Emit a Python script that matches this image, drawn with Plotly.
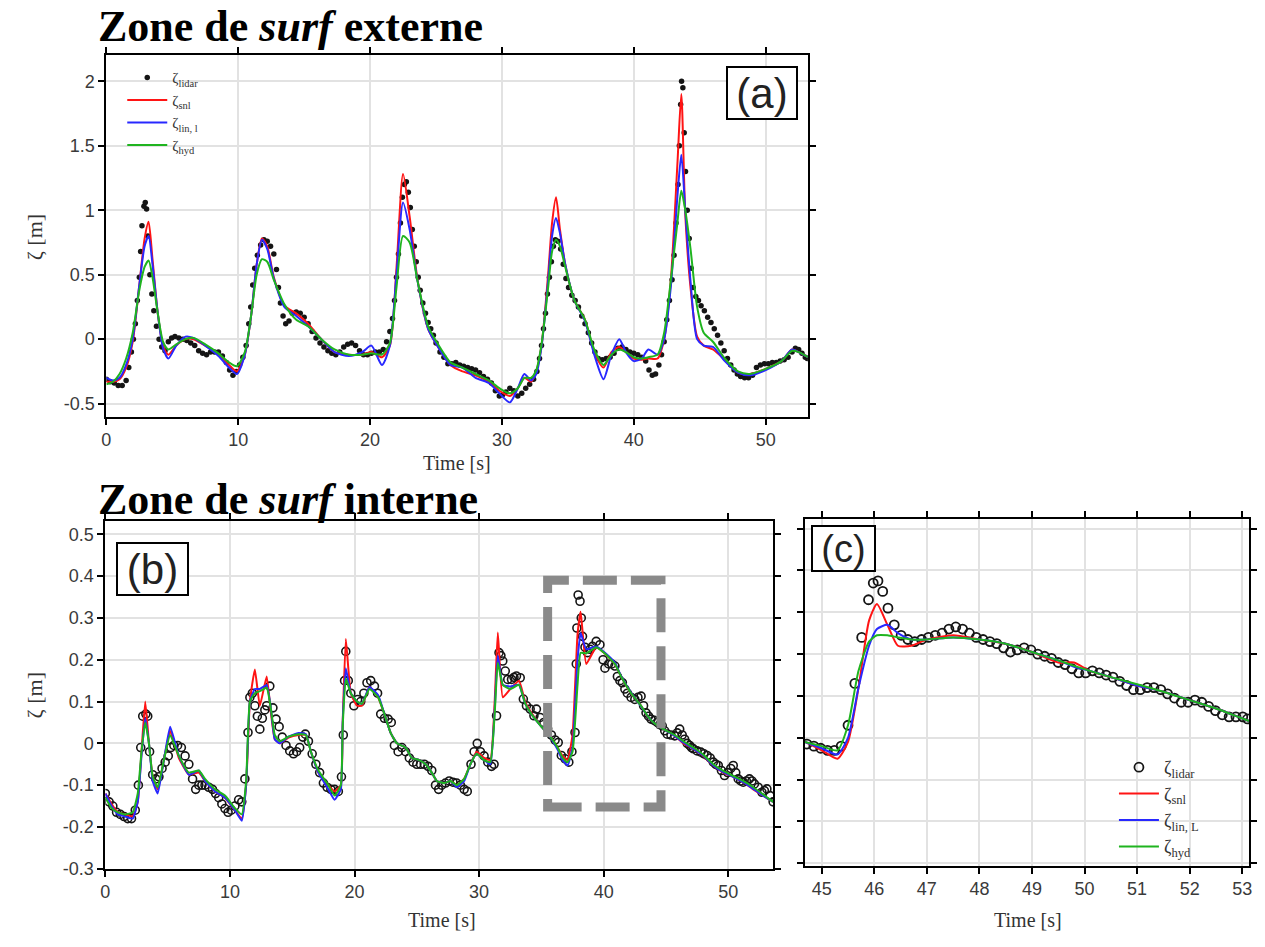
import plotly.graph_objects as go

W, H = 1265, 947

# ---------------- Panel (a) : Zone de surf externe ----------------
t_a = [0, 0.5, 1.0, 1.5, 2.0, 2.5, 2.9, 3.2, 3.5, 3.9,
       4.3, 4.7, 5.3, 6.0, 6.6, 7.5, 8.5, 9.3, 9.9, 10.5,
       11.0, 11.4, 11.8, 12.2, 12.7, 13.5, 14.4, 15.3, 16.3, 17.3,
       18.4, 19.4, 20.1, 20.9, 21.5, 22.0, 22.5, 23.0, 23.6, 24.4,
       25.1, 26.1, 27.0, 28.0, 29.0, 29.8, 30.6, 31.2, 31.7, 32.2,
       32.6, 33.0, 33.5, 33.8, 34.1, 34.4, 34.8, 35.5, 36.3, 37.0,
       37.7, 38.3, 38.9, 39.4, 40.0, 40.6, 41.1, 41.8, 42.3, 42.8,
       43.3, 43.6, 43.9, 44.3, 44.8, 45.3, 46.0, 46.9, 47.9, 48.8,
       50.0, 51.2, 52.0, 52.5, 53.2]
snl_a = [-0.33, -0.33, -0.31, -0.22, -0.02, 0.42, 0.78, 0.91, 0.62, 0.20,
         -0.05, -0.12, -0.05, 0.00, 0.00, -0.05, -0.12, -0.20, -0.25, -0.12,
         0.20, 0.58, 0.78, 0.72, 0.48, 0.26, 0.20, 0.12, 0.00, -0.10,
         -0.12, -0.12, -0.10, -0.14, -0.05, 0.55, 1.28, 0.95, 0.46, 0.08,
         -0.05, -0.20, -0.25, -0.28, -0.33, -0.40, -0.44, -0.38, -0.30, -0.33,
         -0.25, -0.05, 0.50, 0.90, 1.10, 0.85, 0.58, 0.30, 0.15, -0.10,
         -0.22, -0.10, -0.06, -0.10, -0.15, -0.16, -0.15, -0.15, 0.00, 0.45,
         1.35, 1.90, 0.97, 0.40, 0.02, -0.05, -0.08, -0.16, -0.26, -0.27,
         -0.23, -0.17, -0.08, -0.10, -0.14]
lin_a = [-0.30, -0.32, -0.30, -0.20, 0.00, 0.42, 0.72, 0.80, 0.58, 0.20,
         -0.07, -0.15, -0.05, 0.02, 0.01, -0.05, -0.13, -0.22, -0.27, -0.12,
         0.20, 0.58, 0.77, 0.70, 0.47, 0.25, 0.18, 0.10, 0.00, -0.10,
         -0.13, -0.10, -0.05, -0.20, -0.05, 0.50, 1.06, 0.85, 0.45, 0.08,
         -0.05, -0.20, -0.22, -0.30, -0.34, -0.42, -0.49, -0.38, -0.27, -0.32,
         -0.27, -0.06, 0.45, 0.80, 0.94, 0.82, 0.58, 0.30, 0.14, -0.12,
         -0.31, -0.12, 0.00, -0.10, -0.17, -0.15, -0.08, -0.12, 0.00, 0.40,
         1.10, 1.43, 1.00, 0.45, 0.00, -0.05, -0.06, -0.17, -0.26, -0.28,
         -0.24, -0.17, -0.08, -0.10, -0.14]
hyd_a = [-0.35, -0.33, -0.27, -0.15, 0.05, 0.38, 0.56, 0.61, 0.48, 0.20,
         -0.02, -0.08, -0.04, 0.00, 0.01, -0.04, -0.11, -0.18, -0.21, -0.10,
         0.20, 0.50, 0.62, 0.60, 0.46, 0.27, 0.15, 0.10, 0.00, -0.08,
         -0.12, -0.12, -0.11, -0.12, -0.03, 0.40, 0.80, 0.75, 0.45, 0.10,
         -0.03, -0.18, -0.22, -0.27, -0.32, -0.38, -0.42, -0.38, -0.30, -0.30,
         -0.24, -0.04, 0.40, 0.68, 0.77, 0.72, 0.56, 0.30, 0.15, -0.08,
         -0.20, -0.12, -0.08, -0.10, -0.14, -0.15, -0.14, -0.12, 0.05, 0.45,
         0.90, 1.15, 1.00, 0.70, 0.25, 0.05, -0.02, -0.15, -0.25, -0.27,
         -0.23, -0.17, -0.09, -0.10, -0.14]

lidar_a_t = [0.0, 0.3, 0.6, 0.9, 1.2, 1.5, 1.7, 1.9, 2.05, 2.2,
             2.35, 2.5, 2.6, 2.7, 2.85, 2.95, 3.05, 3.15, 3.3, 3.45,
             3.6, 3.8, 4.0, 4.2, 4.45, 4.7, 4.95, 5.2, 5.5, 5.8,
             6.1, 6.4, 6.7, 7.0, 7.3, 7.6, 7.9, 8.2, 8.5, 8.8,
             9.1, 9.35, 9.6, 9.85, 10.1, 10.35, 10.6, 10.8, 10.95, 11.1,
             11.25, 11.45, 11.7, 11.95, 12.2, 12.45, 12.7, 12.9, 13.05, 13.2,
             13.4, 13.6, 13.85, 14.1, 14.4, 14.7, 15.0, 15.3, 15.6, 15.9,
             16.2, 16.5, 16.8, 17.1, 17.4, 17.7, 18.0, 18.3, 18.6, 18.9,
             19.2, 19.5, 19.8, 20.1, 20.4, 20.7, 21.0, 21.25, 21.5, 21.7,
             21.85, 22.0, 22.15, 22.3, 22.45, 22.6, 22.75, 22.9, 23.05, 23.2,
             23.35, 23.5, 23.65, 23.8, 24.0, 24.2, 24.4, 24.6, 24.8, 25.0,
             25.3, 25.6, 25.9, 26.2, 26.5, 26.8, 27.1, 27.4, 27.7, 28.0,
             28.3, 28.6, 28.9, 29.2, 29.5, 29.8, 30.05, 30.3, 30.6, 30.9,
             31.2, 31.5, 31.8, 32.1, 32.4, 32.65, 32.85, 33.0, 33.15, 33.3,
             33.45, 33.6, 33.75, 33.9, 34.05, 34.25, 34.45, 34.65, 34.85, 35.05,
             35.3, 35.55, 35.8, 36.05, 36.3, 36.55, 36.8, 37.05, 37.3, 37.6,
             37.9, 38.2, 38.5, 38.8, 39.1, 39.4, 39.7, 40.0, 40.3, 40.6,
             40.9, 41.15, 41.4, 41.65, 41.9, 42.1, 42.3, 42.5, 42.7, 42.9,
             43.05, 43.2, 43.35, 43.45, 43.55, 43.62, 43.72, 43.82, 43.92, 44.05,
             44.2, 44.35, 44.5, 44.7, 44.9, 45.1, 45.35, 45.6, 45.85, 46.1,
             46.35, 46.6, 46.85, 47.1, 47.35, 47.6, 47.85, 48.1, 48.4, 48.7,
             49.0, 49.3, 49.6, 49.9, 50.2, 50.5, 50.8, 51.1, 51.4, 51.7,
             52.0, 52.25, 52.5, 52.75, 53.0, 53.15]
lidar_a_y = [-0.31, -0.33, -0.34, -0.36, -0.36, -0.32, -0.22, -0.10, 0.00, 0.12,
             0.30, 0.48, 0.68, 0.88, 1.03, 1.06, 1.01, 0.80, 0.50, 0.35,
             0.22, 0.10, 0.00, -0.06, -0.09, -0.02, 0.01, 0.02, 0.01, 0.00,
             -0.01, -0.03, -0.05, -0.09, -0.11, -0.12, -0.10, -0.10, -0.10, -0.13,
             -0.18, -0.24, -0.28, -0.25, -0.20, -0.14, -0.05, 0.12, 0.25, 0.42,
             0.55, 0.65, 0.73, 0.77, 0.76, 0.72, 0.66, 0.54, 0.40, 0.28,
             0.18, 0.12, 0.14, 0.20, 0.21, 0.20, 0.17, 0.12, 0.06, 0.01,
             -0.03, -0.06, -0.09, -0.11, -0.12, -0.10, -0.06, -0.04, -0.03, -0.05,
             -0.09, -0.12, -0.12, -0.11, -0.10, -0.10, -0.08, -0.02, 0.06, 0.16,
             0.30, 0.48, 0.66, 0.90, 1.10, 1.20, 1.22, 1.14, 1.02, 0.85,
             0.72, 0.60, 0.48, 0.38, 0.28, 0.20, 0.13, 0.08, 0.03, -0.03,
             -0.10, -0.14, -0.19, -0.19, -0.18, -0.20, -0.21, -0.22, -0.23, -0.24,
             -0.26, -0.29, -0.31, -0.34, -0.40, -0.44, -0.43, -0.41, -0.38, -0.40,
             -0.44, -0.42, -0.38, -0.35, -0.31, -0.25, -0.15, -0.05, 0.08, 0.20,
             0.35, 0.48, 0.60, 0.72, 0.77, 0.76, 0.70, 0.58, 0.47, 0.40,
             0.34, 0.30, 0.25, 0.18, 0.12, 0.05, -0.03, -0.10, -0.15, -0.16,
             -0.15, -0.14, -0.11, -0.07, -0.06, -0.08, -0.10, -0.11, -0.12, -0.14,
             -0.17, -0.24, -0.28, -0.27, -0.20, -0.12, -0.02, 0.15, 0.30, 0.46,
             0.65, 0.90, 1.20, 1.50, 1.82, 2.00, 1.95, 1.60, 1.30, 1.00,
             0.78, 0.55, 0.40, 0.33, 0.30, 0.26, 0.22, 0.17, 0.13, 0.08,
             0.03, -0.03, -0.09, -0.15, -0.20, -0.24, -0.27, -0.29, -0.30, -0.30,
             -0.28, -0.22, -0.20, -0.19, -0.19, -0.18, -0.18, -0.17, -0.16, -0.14,
             -0.10, -0.07, -0.08, -0.11, -0.14, -0.15]

# ---------------- Panel (b) : Zone de surf interne ----------------
t_b = [0.0, 0.5, 1.0, 1.6, 2.2, 2.6, 2.9, 3.2, 3.5, 3.8,
       4.2, 4.7, 5.2, 5.9, 6.7, 7.5, 8.0, 8.8, 9.6, 10.4,
       10.95, 11.3, 11.6, 12.0, 12.4, 12.95, 13.3, 13.6, 14.0, 14.7,
       15.5, 16.1, 16.5, 17.1, 17.9, 18.4, 18.9, 19.05, 19.3, 19.7,
       20.2, 20.6, 21.2, 21.9, 22.4, 22.9, 23.4, 24.1, 24.6, 25.2,
       25.7, 26.2, 26.6, 27.2, 27.7, 28.2, 28.8, 29.3, 29.8, 30.4,
       30.9, 31.25, 31.5, 31.9, 32.5, 33.2, 33.7, 34.2, 35.0, 35.6,
       36.3, 36.7, 37.1, 37.5, 37.9, 38.15, 38.6, 39.4, 40.1, 40.9,
       41.4, 42.2, 43.0, 43.5, 44.0, 44.8, 45.7, 46.4, 47.2, 48.0,
       48.8, 49.6, 50.4, 51.2, 52.0, 52.8, 53.6]
snl_b = [-0.12, -0.145, -0.165, -0.17, -0.175, -0.14, -0.02, 0.10, 0.00, -0.08,
         -0.11, -0.04, 0.03, -0.035, -0.075, -0.07, -0.09, -0.115, -0.13, -0.16,
         -0.18, -0.10, 0.10, 0.177, 0.09, 0.16, 0.07, 0.01, 0.00, 0.014,
         0.02, 0.02, -0.02, -0.07, -0.10, -0.115, -0.10, 0.05, 0.25, 0.12,
         0.09, 0.09, 0.135, 0.11, 0.07, 0.025, 0.00, -0.01, -0.035, -0.04,
         -0.05, -0.07, -0.09, -0.095, -0.09, -0.10, -0.085, -0.05, -0.02, -0.035,
         -0.04, 0.10, 0.265, 0.11, 0.13, 0.15, 0.10, 0.073, 0.04, 0.02,
         -0.01, -0.03, -0.04, 0.02, 0.26, 0.315, 0.19, 0.23, 0.215, 0.19,
         0.16, 0.12, 0.09, 0.065, 0.05, 0.034, 0.018, 0.00, -0.013, -0.03,
         -0.053, -0.07, -0.08, -0.093, -0.11, -0.125, -0.14]
lin_b = [-0.12, -0.15, -0.17, -0.175, -0.18, -0.14, -0.03, 0.06, 0.00, -0.09,
         -0.12, -0.04, 0.04, -0.03, -0.075, -0.065, -0.09, -0.115, -0.13, -0.16,
         -0.185, -0.10, 0.10, 0.13, 0.13, 0.14, 0.08, 0.01, 0.00, 0.016,
         0.025, 0.022, -0.02, -0.07, -0.11, -0.135, -0.11, 0.05, 0.18, 0.12,
         0.10, 0.095, 0.135, 0.115, 0.07, 0.025, 0.00, -0.01, -0.035, -0.04,
         -0.05, -0.07, -0.09, -0.095, -0.09, -0.105, -0.09, -0.05, -0.025, -0.04,
         -0.05, 0.08, 0.21, 0.14, 0.136, 0.14, 0.095, 0.07, 0.04, 0.02,
         -0.015, -0.04, -0.053, -0.01, 0.20, 0.264, 0.225, 0.232, 0.217, 0.193,
         0.161, 0.121, 0.089, 0.066, 0.05, 0.034, 0.018, 0.002, -0.013, -0.029,
         -0.053, -0.069, -0.08, -0.093, -0.109, -0.125, -0.14]
hyd_b = [-0.13, -0.155, -0.165, -0.17, -0.165, -0.12, -0.02, 0.05, 0.00, -0.08,
         -0.105, -0.04, 0.02, -0.03, -0.07, -0.065, -0.085, -0.11, -0.125, -0.155,
         -0.17, -0.09, 0.10, 0.12, 0.125, 0.133, 0.08, 0.02, 0.005, 0.016,
         0.022, 0.02, -0.02, -0.065, -0.10, -0.125, -0.10, 0.04, 0.155, 0.12,
         0.10, 0.095, 0.13, 0.11, 0.07, 0.025, 0.00, -0.01, -0.035, -0.04,
         -0.05, -0.07, -0.09, -0.095, -0.09, -0.10, -0.085, -0.05, -0.025, -0.04,
         -0.045, 0.07, 0.193, 0.14, 0.13, 0.14, 0.095, 0.07, 0.04, 0.02,
         -0.01, -0.035, -0.045, -0.02, 0.14, 0.217, 0.215, 0.23, 0.215, 0.19,
         0.16, 0.12, 0.09, 0.066, 0.05, 0.034, 0.02, 0.005, -0.01, -0.027,
         -0.05, -0.066, -0.078, -0.09, -0.105, -0.122, -0.14]

lidar_b_t = [0.0, 0.3, 0.6, 0.9, 1.2, 1.5, 1.8, 2.1, 2.4, 2.65,
             2.84, 3.0, 3.25, 3.4, 3.55, 3.8, 4.05, 4.3, 4.55, 4.8,
             5.05, 5.25, 5.5, 5.8, 6.1, 6.4, 6.7, 7.0, 7.25, 7.5,
             7.75, 8.0, 8.3, 8.6, 8.85, 9.1, 9.35, 9.6, 9.85, 10.1,
             10.4, 10.7, 10.95, 11.2, 11.45, 11.6, 11.8, 12.0, 12.2, 12.4,
             12.6, 12.8, 12.95, 13.2, 13.45, 13.7, 13.95, 14.2, 14.5, 14.8,
             15.1, 15.35, 15.6, 15.85, 16.05, 16.3, 16.6, 16.9, 17.2, 17.5,
             17.8, 18.1, 18.4, 18.7, 18.95, 19.1, 19.2, 19.3, 19.5, 19.7,
             19.95, 20.25, 20.5, 20.75, 21.0, 21.3, 21.6, 21.85, 22.1, 22.4,
             22.7, 22.95, 23.2, 23.5, 23.8, 24.1, 24.4, 24.7, 25.0, 25.3,
             25.6, 25.9, 26.2, 26.5, 26.75, 27.0, 27.3, 27.6, 27.9, 28.2,
             28.5, 28.8, 29.05, 29.35, 29.6, 29.85, 30.1, 30.4, 30.7, 31.0,
             31.2, 31.4, 31.6, 31.75, 31.9, 32.1, 32.3, 32.6, 32.8, 33.0,
             33.3, 33.55, 33.8, 34.1, 34.4, 34.6, 34.9, 35.2, 35.5, 35.8,
             36.1, 36.35, 36.6, 36.9, 37.2, 37.45, 37.7, 37.8, 37.85, 37.95,
             38.1, 38.2, 38.3, 38.5, 38.7, 38.9, 39.1, 39.4, 39.7, 39.95,
             40.1, 40.4, 40.65, 40.9, 41.1, 41.3, 41.5, 41.7, 41.9, 42.2,
             42.5, 42.75, 43.0, 43.2, 43.4, 43.6, 43.8, 44.05, 44.3, 44.5,
             44.7, 44.9, 45.1, 45.4, 45.7, 45.9, 46.1, 46.3, 46.5, 46.7,
             46.9, 47.05, 47.2, 47.5, 47.8, 48.05, 48.3, 48.55, 48.8, 49.0,
             49.2, 49.45, 49.7, 49.95, 50.2, 50.4, 50.6, 50.8, 51.0, 51.2,
             51.45, 51.7, 51.9, 52.1, 52.4, 52.7, 52.9, 53.1, 53.35, 53.6]
lidar_b_y = [-0.12, -0.14, -0.15, -0.165, -0.17, -0.175, -0.18, -0.18, -0.16, -0.10,
             -0.01, 0.065, 0.07, 0.065, -0.02, -0.075, -0.085, -0.08, -0.06, -0.045,
             -0.03, -0.01, -0.005, -0.005, -0.01, -0.03, -0.05, -0.085, -0.11, -0.10,
             -0.10, -0.10, -0.105, -0.11, -0.12, -0.13, -0.145, -0.156, -0.165, -0.16,
             -0.15, -0.135, -0.14, -0.085, 0.026, 0.11, 0.12, 0.09, 0.065, 0.034,
             0.06, 0.08, 0.09, 0.137, 0.085, 0.058, 0.04, 0.015, -0.005, -0.018,
             -0.025, -0.02, -0.01, 0.015, 0.022, 0.005, -0.025, -0.05, -0.07, -0.095,
             -0.105, -0.11, -0.11, -0.115, -0.08, 0.02, 0.15, 0.22, 0.15, 0.12,
             0.09, 0.105, 0.10, 0.12, 0.145, 0.15, 0.137, 0.12, 0.07, 0.06,
             0.058, 0.05, -0.005, -0.02, -0.01, -0.02, -0.035, -0.045, -0.05, -0.05,
             -0.05, -0.055, -0.065, -0.10, -0.11, -0.10, -0.095, -0.09, -0.093, -0.095,
             -0.10, -0.11, -0.115, -0.05, -0.02, 0.0, -0.02, -0.03, -0.045, -0.055,
             -0.05, 0.066, 0.217, 0.21, 0.197, 0.173, 0.153, 0.153, 0.158, 0.161,
             0.157, 0.106, 0.09, 0.082, 0.066, 0.082, 0.062, 0.05, 0.035, 0.02,
             0.008, 0.002, -0.029, -0.037, -0.045, -0.02, 0.026, 0.19, 0.276, 0.355,
             0.34, 0.30, 0.256, 0.23, 0.217, 0.225, 0.232, 0.244, 0.236, 0.20,
             0.18, 0.19, 0.19, 0.185, 0.16, 0.15, 0.145, 0.13, 0.12, 0.11,
             0.105, 0.11, 0.113, 0.09, 0.073, 0.065, 0.058, 0.055, 0.05, 0.045,
             0.042, 0.03, 0.022, 0.02, 0.018, 0.025, 0.034, 0.02, 0.01, 0.0,
             -0.005, -0.01, -0.013, -0.018, -0.021, -0.025, -0.029, -0.035, -0.045, -0.05,
             -0.053, -0.065, -0.077, -0.07, -0.06, -0.053, -0.07, -0.085, -0.09, -0.093,
             -0.09, -0.085, -0.09, -0.097, -0.105, -0.117, -0.113, -0.109, -0.125, -0.14]

# ---------------- Panel (c) : zoom ----------------
t_c = [44.68, 45.0, 45.3, 45.5, 45.7, 45.9, 46.05, 46.25, 46.45, 46.7,
       47.0, 47.5, 48.0, 48.5, 49.0, 49.5, 49.8, 50.1, 50.5, 51.0,
       51.5, 52.0, 52.5, 53.13]
snl_c = [-0.01, -0.03, -0.05, -0.01, 0.12, 0.28, 0.32, 0.27, 0.22, 0.22,
         0.235, 0.245, 0.235, 0.225, 0.205, 0.18, 0.18, 0.16, 0.145, 0.125,
         0.11, 0.09, 0.07, 0.04]
lin_c = [-0.01, -0.025, -0.04, 0.0, 0.12, 0.22, 0.26, 0.27, 0.25, 0.235,
         0.235, 0.24, 0.235, 0.225, 0.205, 0.185, 0.17, 0.16, 0.145, 0.125,
         0.11, 0.09, 0.07, 0.04]
hyd_c = [-0.01, -0.02, -0.03, 0.03, 0.16, 0.23, 0.245, 0.245, 0.24, 0.235,
         0.235, 0.24, 0.235, 0.225, 0.205, 0.185, 0.172, 0.16, 0.145, 0.128,
         0.11, 0.09, 0.07, 0.04]
lidar_c_t = [44.72, 44.85, 44.98, 45.11, 45.24, 45.37, 45.50, 45.63, 45.76, 45.89,
             45.98, 46.07, 46.16, 46.26, 46.38, 46.51, 46.64, 46.77, 46.90, 47.03,
             47.16, 47.29, 47.42, 47.55, 47.68, 47.81, 47.94, 48.07, 48.20, 48.33,
             48.46, 48.59, 48.72, 48.85, 48.98, 49.11, 49.24, 49.37, 49.50, 49.63,
             49.76, 49.89, 50.02, 50.15, 50.28, 50.41, 50.54, 50.67, 50.80, 50.93,
             51.06, 51.19, 51.32, 51.45, 51.58, 51.71, 51.84, 51.97, 52.10, 52.23,
             52.36, 52.49, 52.62, 52.75, 52.88, 53.01, 53.10]
lidar_c_y = [-0.015, -0.02, -0.025, -0.03, -0.03, -0.02, 0.03, 0.13, 0.24, 0.33,
             0.37, 0.375, 0.35, 0.31, 0.27, 0.245, 0.235, 0.23, 0.235, 0.24,
             0.245, 0.25, 0.26, 0.265, 0.26, 0.25, 0.24, 0.235, 0.23, 0.225,
             0.215, 0.205, 0.21, 0.215, 0.21, 0.20, 0.195, 0.19, 0.18, 0.175,
             0.165, 0.155, 0.155, 0.16, 0.155, 0.15, 0.145, 0.135, 0.125, 0.115,
             0.115, 0.12, 0.12, 0.115, 0.105, 0.095, 0.085, 0.085, 0.09, 0.085,
             0.075, 0.065, 0.055, 0.05, 0.05, 0.05, 0.045]

# tick labels
xticks_ab = [0, 10, 20, 30, 40, 50]
yticks_a = [-0.5, 0, 0.5, 1, 1.5, 2]
yticks_a_txt = ["-0.5", "0", "0.5", "1", "1.5", "2"]
yticks_b = [-0.3, -0.2, -0.1, 0, 0.1, 0.2, 0.3, 0.4, 0.5]
yticks_b_txt = ["-0.3", "-0.2", "-0.1", "0", "0.1", "0.2", "0.3", "0.4", "0.5"]
xticks_c = [45, 46, 47, 48, 49, 50, 51, 52, 53]

names = ["ζ<sub>lidar</sub>", "ζ<sub>snl</sub>", "ζ<sub>lin, l</sub>", "ζ<sub>hyd</sub>"]
names_c = ["ζ<sub>lidar</sub>", "ζ<sub>snl</sub>", "ζ<sub>lin, L</sub>", "ζ<sub>hyd</sub>"]

for a, b in [(t_a, snl_a), (t_a, lin_a), (t_a, hyd_a), (lidar_a_t, lidar_a_y),
             (t_b, snl_b), (t_b, lin_b), (t_b, hyd_b), (lidar_b_t, lidar_b_y),
             (t_c, snl_c), (t_c, lin_c), (t_c, hyd_c), (lidar_c_t, lidar_c_y)]:
    if len(a) != len(b):
        raise ValueError("length mismatch %d %d" % (len(a), len(b)))

RED, BLUE, GREEN = "#ff1414", "#2828ff", "#1fb41f"


def px(x):
    return x / W


def py(y):
    return 1 - y / H


fig = go.Figure()

# panel a
fig.add_trace(go.Scatter(x=lidar_a_t, y=lidar_a_y, mode="markers", name=names[0],
                         marker=dict(color="#151515", size=5.5), xaxis="x", yaxis="y", legend="legend"))
for vals, col, nm in [(snl_a, RED, names[1]), (lin_a, BLUE, names[2]), (hyd_a, GREEN, names[3])]:
    fig.add_trace(go.Scatter(x=t_a, y=vals, mode="lines", name=nm,
                             line=dict(color=col, width=2, shape="spline", smoothing=0.7),
                             xaxis="x", yaxis="y", legend="legend"))

# panel b
fig.add_trace(go.Scatter(x=lidar_b_t, y=lidar_b_y, mode="markers", showlegend=False,
                         marker=dict(symbol="circle-open", color="#151515", size=8, line=dict(width=1.6)),
                         xaxis="x2", yaxis="y2"))
for vals, col in [(snl_b, RED), (lin_b, BLUE), (hyd_b, GREEN)]:
    fig.add_trace(go.Scatter(x=t_b, y=vals, mode="lines", showlegend=False,
                             line=dict(color=col, width=2, shape="spline", smoothing=0.4),
                             xaxis="x2", yaxis="y2"))

# panel c
fig.add_trace(go.Scatter(x=lidar_c_t, y=lidar_c_y, mode="markers", name=names_c[0],
                         marker=dict(symbol="circle-open", color="#151515", size=9, line=dict(width=1.8)),
                         xaxis="x3", yaxis="y3", legend="legend2"))
for vals, col, nm in [(snl_c, RED, names_c[1]), (lin_c, BLUE, names_c[2]), (hyd_c, GREEN, names_c[3])]:
    fig.add_trace(go.Scatter(x=t_c, y=vals, mode="lines", name=nm,
                             line=dict(color=col, width=2, shape="spline", smoothing=0.6),
                             xaxis="x3", yaxis="y3", legend="legend2"))

axstyle = dict(showline=True, linecolor="black", linewidth=2, mirror="ticks",
               ticks="outside", ticklen=6, tickwidth=1.5, tickcolor="black",
               showgrid=True, gridcolor="#e2e2e2", gridwidth=1.5, zeroline=False,
               tickfont=dict(family="Liberation Sans, Arial, sans-serif", size=18, color="#3a3a3a"))

fig.update_layout(
    width=W, height=H, margin=dict(l=0, r=0, t=0, b=0), autosize=False,
    paper_bgcolor="white", plot_bgcolor="white",
    xaxis=dict(axstyle, domain=[px(102), px(808)], anchor="y", range=[0, 53.2], tickvals=xticks_ab),
    yaxis=dict(axstyle, domain=[py(421), py(56)], anchor="x", range=[-0.6, 2.2],
               tickvals=yticks_a, ticktext=yticks_a_txt),
    xaxis2=dict(axstyle, domain=[px(101), px(773)], anchor="y2", range=[0, 53.6], tickvals=xticks_ab),
    yaxis2=dict(axstyle, domain=[py(878), py(527)], anchor="x2", range=[-0.3, 0.531],
                tickvals=yticks_b, ticktext=yticks_b_txt),
    xaxis3=dict(axstyle, domain=[px(805), px(1252)], anchor="y3", range=[44.68, 53.13], tickvals=xticks_c),
    yaxis3=dict(axstyle, domain=[py(875), py(525)], anchor="x3", range=[-0.306, 0.522],
                tickvals=yticks_b, showticklabels=False),
    legend=dict(x=px(118), y=py(62), xanchor="left", yanchor="top", bgcolor="rgba(0,0,0,0)",
                font=dict(family="Liberation Serif, serif", size=15, color="#333"),
                tracegroupgap=0, itemwidth=40),
    legend2=dict(x=px(1116), y=py(757), xanchor="left", yanchor="top", bgcolor="rgba(0,0,0,0)",
                 font=dict(family="Liberation Serif, serif", size=18, color="#333"),
                 tracegroupgap=0, itemwidth=40),
)

# dashed zoom rectangle in (b)
fig.add_shape(type="rect", xref="x2", yref="y2", x0=35.5, x1=44.6, y0=-0.152, y1=0.39,
              line=dict(color="#8a8a8a", width=9, dash="34px,14px"), layer="above")

serif = "Liberation Serif, Times New Roman, serif"
ann = [
    dict(text="<b>Zone de <i>surf</i> externe</b>", x=px(92), y=py(27), xanchor="left", yanchor="middle",
         font=dict(family=serif, size=44, color="black")),
    dict(text="<b>Zone de <i>surf</i> interne</b>", x=px(92), y=py(505), xanchor="left", yanchor="middle",
         font=dict(family=serif, size=44, color="black")),
    dict(text="Time [s]", x=px(455), y=py(468), xanchor="center", yanchor="middle",
         font=dict(family=serif, size=20, color="#333")),
    dict(text="Time [s]", x=px(440), y=py(930), xanchor="center", yanchor="middle",
         font=dict(family=serif, size=20, color="#333")),
    dict(text="Time [s]", x=px(1030), y=py(930), xanchor="center", yanchor="middle",
         font=dict(family=serif, size=20, color="#333")),
    dict(text="ζ [m]", x=px(30), y=py(240), xanchor="center", yanchor="middle", textangle=-90,
         font=dict(family=serif, size=22, color="#333")),
    dict(text="ζ [m]", x=px(30), y=py(703), xanchor="center", yanchor="middle", textangle=-90,
         font=dict(family=serif, size=22, color="#333")),
]
for lab, cx, cy, w, h, fs in [("(a)", 762, 94, 68, 50, 42), ("(b)", 148, 575, 69, 50, 42),
                               ("(c)", 844, 554, 61, 43, 38)]:
    ann.append(dict(text=lab, x=px(cx), y=py(cy), xanchor="center", yanchor="middle",
                    width=w, height=h, bordercolor="black", borderwidth=2, borderpad=0,
                    bgcolor="white", font=dict(family="Liberation Sans, Arial, sans-serif", size=fs, color="#222")))
for a in ann:
    a.update(xref="paper", yref="paper", showarrow=False)
fig.update_layout(annotations=ann)

fig.write_html("out.html")
